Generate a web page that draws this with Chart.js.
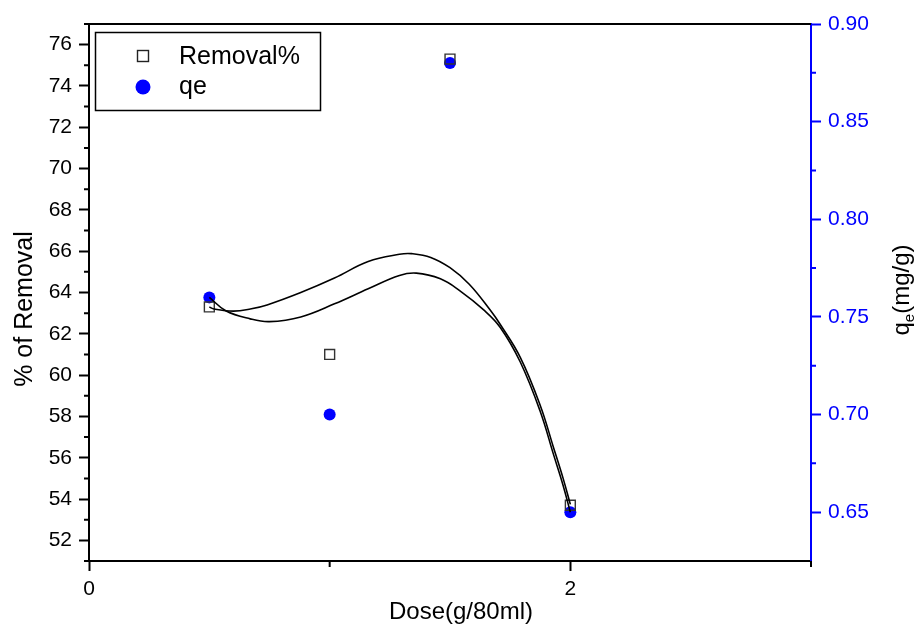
<!DOCTYPE html>
<html>
<head>
	<script src="https://cdn.jsdelivr.net/npm/chart.js@4.4.0/dist/chart.umd.min.js"></script>
	<title>Removal and qe vs dose</title>
	<style>body{margin:0;background:#fff}</style>
</head>
<body>
	<canvas id="myChart" width="921" height="627"></canvas>
	<script type="text/javascript">
		// measured points
		const doses = [0.5, 1, 1.5, 2];
		const removal = [63.3, 61.0, 75.3, 53.7];
		const qe = [0.76, 0.70, 0.88, 0.65];

		// fitted curves
		const removalFitX = [0.5, 0.52, 0.6, 0.67, 0.74, 0.88, 1.02, 1.16, 1.29, 1.34, 1.42, 1.5, 1.58, 1.667, 1.709, 1.792, 1.875, 1.93, 1.97, 2.0];
		const removalFit  = [63.3, 63.2, 63.1, 63.2, 63.4, 64.0, 64.7, 65.5, 65.85, 65.88, 65.7, 65.2, 64.4, 63.15, 62.45, 60.86, 58.53, 56.5, 55.0, 53.74];
		const qeFitX = [0.5, 0.57, 0.67, 0.75, 0.88, 1.02, 1.16, 1.29, 1.36, 1.46, 1.54, 1.64, 1.709, 1.792, 1.875, 1.93, 1.97, 2.0];
		const qeFit  = [0.760, 0.753, 0.749, 0.7476, 0.750, 0.7567, 0.7644, 0.7712, 0.7724, 0.7695, 0.7635, 0.7536, 0.7446, 0.7269, 0.7016, 0.6796, 0.6637, 0.65];

		// ticks
		const xMajor = [0, 2];
		const xMinor = [1, 3];
		const leftMajor = [52, 54, 56, 58, 60, 62, 64, 66, 68, 70, 72, 74, 76];
		const leftMinor = [51, 53, 55, 57, 59, 61, 63, 65, 67, 69, 71, 73, 75, 77];
		const rightMajor = [0.65, 0.70, 0.75, 0.80, 0.85, 0.90];
		const rightMinor = [0.675, 0.725, 0.775, 0.825, 0.875];

		const xTitle = 'Dose(g/80ml)';
		const leftTitle = '% of Removal';

		const blue = '#0000ff';
		const fontFam = "'Liberation Sans', Arial, sans-serif";

		const toXY = (xs, ys) => xs.map((x, i) => ({x: x, y: ys[i]}));

		const extras = {
			id: 'extras',
			afterDraw(chart) {
				const ctx = chart.ctx;
				const a = chart.chartArea;
				const sx = chart.scales.x, sl = chart.scales.y, sr = chart.scales.y2;
				ctx.save();
				// top frame line
				ctx.strokeStyle = '#000';
				ctx.lineWidth = 2;
				ctx.beginPath();
				ctx.moveTo(a.left - 1, a.top);
				ctx.lineTo(a.right, a.top);
				ctx.stroke();
				// minor ticks
				ctx.beginPath();
				xMinor.forEach(v => { const p = sx.getPixelForValue(v); ctx.moveTo(p, a.bottom); ctx.lineTo(p, a.bottom + 6); });
				leftMinor.forEach(v => { const p = sl.getPixelForValue(v); ctx.moveTo(a.left, p); ctx.lineTo(a.left - 5, p); });
				ctx.stroke();
				ctx.strokeStyle = blue;
				ctx.beginPath();
				rightMinor.forEach(v => { const p = sr.getPixelForValue(v); ctx.moveTo(a.right, p); ctx.lineTo(a.right + 5, p); });
				ctx.stroke();

				// legend
				ctx.strokeStyle = '#000';
				ctx.lineWidth = 1.5;
				ctx.strokeRect(95.5, 32.5, 225, 78);
				ctx.lineWidth = 1.4;
				ctx.strokeStyle = '#222';
				ctx.strokeRect(137.5, 50.5, 11, 11);
				ctx.fillStyle = blue;
				ctx.beginPath();
				ctx.arc(143, 87, 7.5, 0, Math.PI * 2);
				ctx.fill();
				ctx.fillStyle = '#000';
				ctx.font = '25px ' + fontFam;
				ctx.textBaseline = 'middle';
				ctx.textAlign = 'left';
				ctx.fillText(chart.data.datasets[2].label, 179, 57);
				ctx.fillText(chart.data.datasets[3].label, 179, 87);

				// axis titles
				ctx.textAlign = 'center';
				ctx.font = '24px ' + fontFam;
				ctx.fillText(xTitle, 461, 612);
				ctx.save();
				ctx.translate(25, 309);
				ctx.rotate(-Math.PI / 2);
				ctx.font = '25px ' + fontFam;
				ctx.fillText(leftTitle, 0, 0);
				ctx.restore();

				// right axis title q_e(mg/g)
				ctx.textAlign = 'left';
				ctx.translate(902, 290);
				ctx.rotate(-Math.PI / 2);
				const big = '24px ' + fontFam, small = '15px ' + fontFam;
				ctx.font = big; const w1 = ctx.measureText('q').width;
				ctx.font = small; const w2 = ctx.measureText('e').width;
				ctx.font = big; const w3 = ctx.measureText('(mg/g)').width;
				let x0 = -(w1 + w2 + w3) / 2;
				ctx.font = big; ctx.fillText('q', x0, 0);
				ctx.font = small; ctx.fillText('e', x0 + w1, 8);
				ctx.font = big; ctx.fillText('(mg/g)', x0 + w1 + w2, 0);
				ctx.restore();
			}
		};

		const ctx = document.getElementById('myChart');
		const myChart = new Chart(ctx, {
			type: 'scatter',
			data: {
				datasets: [
					{
						label: 'Removal fit',
						data: toXY(removalFitX, removalFit),
						yAxisID: 'y',
						showLine: true,
						borderColor: '#000',
						borderWidth: 1.6,
						pointRadius: 0,
						tension: 0.4
					},
					{
						label: 'qe fit',
						data: toXY(qeFitX, qeFit),
						yAxisID: 'y2',
						showLine: true,
						borderColor: '#000',
						borderWidth: 1.6,
						pointRadius: 0,
						tension: 0.4
					},
					{
						label: 'Removal%',
						data: toXY(doses, removal),
						yAxisID: 'y',
						pointStyle: 'rect',
						pointRadius: 7,
						borderColor: '#333',
						borderWidth: 1.4,
						backgroundColor: 'rgba(0,0,0,0)'
					},
					{
						label: 'qe',
						data: toXY(doses, qe),
						yAxisID: 'y2',
						pointStyle: 'circle',
						pointRadius: 6,
						borderWidth: 0,
						backgroundColor: blue
					}
				]
			},
			plugins: [extras],
			options: {
				responsive: false,
				animation: false,
				layout: { padding: { top: 24, left: 0, right: 0, bottom: 0 }, autoPadding: false },
				plugins: { legend: { display: false }, tooltip: { enabled: false } },
				scales: {
					x: {
						type: 'linear',
						min: 0, max: 3,
						afterBuildTicks: s => { s.ticks = xMajor.map(v => ({value: v})); },
						afterFit: s => { s.height = 66; },
						ticks: { color: '#000', padding: 6, font: { size: 21, family: fontFam }, maxRotation: 0 },
						grid: { drawOnChartArea: false, drawTicks: true, tickLength: 10, tickWidth: 2, tickColor: '#000' },
						border: { display: true, color: '#000', width: 2 }
					},
					y: {
						position: 'left',
						min: 51, max: 77,
						afterBuildTicks: s => { s.ticks = leftMajor.map(v => ({value: v})); },
						afterFit: s => { s.width = 89; },
						ticks: { color: '#000', padding: 7, font: { size: 21, family: fontFam } },
						grid: { drawOnChartArea: false, drawTicks: true, tickLength: 10, tickWidth: 2, tickColor: '#000' },
						border: { display: true, color: '#000', width: 2 }
					},
					y2: {
						position: 'right',
						min: 0.625, max: 0.90,
						afterBuildTicks: s => { s.ticks = rightMajor.map(v => ({value: v})); },
						afterFit: s => { s.width = 110; },
						ticks: { color: blue, padding: 7, font: { size: 21, family: fontFam }, callback: v => v.toFixed(2) },
						grid: { drawOnChartArea: false, drawTicks: true, tickLength: 10, tickWidth: 2, tickColor: blue },
						border: { display: true, color: blue, width: 2 }
					}
				}
			}
		});
	</script>
</body>
</html>
